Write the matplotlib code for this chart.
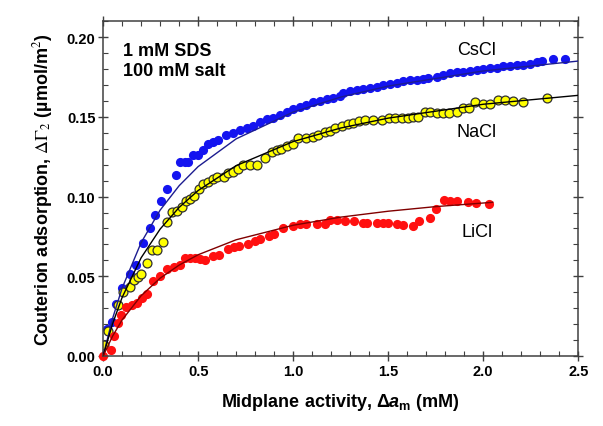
import matplotlib
matplotlib.use("Agg")
import matplotlib.pyplot as plt
from matplotlib.ticker import MultipleLocator

plt.rcParams['font.family'] = ['Liberation Sans', 'DejaVu Sans']
plt.rcParams['mathtext.fontset'] = 'custom'
plt.rcParams['mathtext.rm'] = 'Liberation Sans:bold'
plt.rcParams['mathtext.it'] = 'Liberation Sans:italic:bold'
plt.rcParams['mathtext.bf'] = 'Liberation Sans:bold'

# measured points
cs_x = [0.021, 0.046, 0.067, 0.097, 0.144, 0.172, 0.211, 0.246, 0.272, 0.307, 0.337, 0.385,
        0.404, 0.43, 0.447, 0.474, 0.5, 0.526, 0.553, 0.579, 0.605, 0.649, 0.684, 0.72, 0.755,
        0.789, 0.825, 0.86, 0.895, 0.93, 0.965, 1.0, 1.035, 1.07, 1.105, 1.14, 1.176, 1.21,
        1.246, 1.263, 1.298, 1.334, 1.368, 1.403, 1.439, 1.474, 1.509, 1.544, 1.579, 1.614,
        1.649, 1.684, 1.711, 1.755, 1.789, 1.825, 1.86, 1.895, 1.93, 1.965, 2.0, 2.035, 2.07,
        2.105, 2.14, 2.176, 2.21, 2.246, 2.281, 2.307, 2.368, 2.43]
cs_y = [0.017, 0.0216, 0.0327, 0.0426, 0.0516, 0.0572, 0.071, 0.080, 0.0887, 0.097, 0.105, 0.1134,
        0.1214, 0.1214, 0.1214, 0.126, 0.126, 0.129, 0.1327, 0.134, 0.1354, 0.1386, 0.1396, 0.1417, 0.1428,
        0.1444, 0.1465, 0.1486, 0.1495, 0.1511, 0.1528, 0.155, 0.1564, 0.1574, 0.1591, 0.160, 0.1612, 0.162,
        0.1633, 0.1648, 0.1662, 0.1669, 0.1675, 0.1679, 0.169, 0.170, 0.1704, 0.1715, 0.1725, 0.1732,
        0.1732, 0.1738, 0.1746, 0.1753, 0.1763, 0.1774, 0.178, 0.1784, 0.1788, 0.1795, 0.1801, 0.1805, 0.1805,
        0.1816, 0.1822, 0.1826, 0.1826, 0.1834, 0.1847, 0.1851, 0.1864, 0.1864]

na_x = [0.005, 0.027, 0.079, 0.105, 0.143, 0.163, 0.181, 0.198, 0.232, 0.255, 0.281, 0.313,
        0.334, 0.361, 0.391, 0.414, 0.435, 0.456, 0.478, 0.504, 0.528, 0.553, 0.579, 0.6,
        0.635, 0.658, 0.684, 0.71, 0.737, 0.772, 0.81, 0.851, 0.886, 0.913, 0.935, 0.965,
        1.0, 1.026, 1.07, 1.105, 1.132, 1.167, 1.193, 1.222, 1.255, 1.29, 1.316, 1.347,
        1.377, 1.418, 1.465, 1.505, 1.535, 1.57, 1.605, 1.632, 1.658, 1.693, 1.719, 1.755,
        1.789, 1.821, 1.86, 1.895, 1.926, 1.956, 1.997, 2.035, 2.079, 2.114, 2.155, 2.21, 2.337]
na_y = [0.007, 0.0155, 0.032, 0.040, 0.0435, 0.0474, 0.0495, 0.0516, 0.0585, 0.0662, 0.0665, 0.0715,
        0.0841, 0.0904, 0.0908, 0.0935, 0.097, 0.0987, 0.1003, 0.1048, 0.1076, 0.1092, 0.1113, 0.1124,
        0.1124, 0.1145, 0.1155, 0.1176, 0.1197, 0.1197, 0.1199, 0.1239, 0.1281, 0.1291, 0.1298, 0.1319,
        0.1327, 0.1365, 0.1369, 0.1375, 0.1386, 0.1407, 0.1414, 0.143, 0.1445, 0.1453, 0.1459, 0.1474,
        0.148, 0.148, 0.148, 0.1495, 0.1495, 0.1495, 0.1495, 0.1497, 0.1501, 0.1533, 0.1533, 0.1526,
        0.1522, 0.1522, 0.1533, 0.1558, 0.1553, 0.1591, 0.1579, 0.1579, 0.1606, 0.1606, 0.160, 0.1596, 0.1616]

li_x = [0.0, 0.04, 0.055, 0.077, 0.095, 0.12, 0.15, 0.178, 0.205, 0.232, 0.263, 0.3, 0.335,
        0.374, 0.404, 0.43, 0.456, 0.483, 0.51, 0.535, 0.576, 0.611, 0.658, 0.69, 0.716, 0.763,
        0.798, 0.825, 0.874, 0.9, 0.947, 1.0, 1.035, 1.07, 1.123, 1.167, 1.193, 1.232, 1.275,
        1.318, 1.365, 1.386, 1.442, 1.47, 1.5, 1.544, 1.579, 1.628, 1.663, 1.719, 1.751, 1.791,
        1.825, 1.86, 1.921, 1.963, 2.03]
li_y = [0.0002, 0.0035, 0.0125, 0.0205, 0.026, 0.031, 0.032, 0.0335, 0.0363, 0.039, 0.047, 0.050, 0.0547,
        0.0558, 0.0568, 0.0614, 0.0614, 0.0612, 0.0606, 0.0603, 0.0627, 0.0632, 0.067, 0.0684, 0.0692, 0.0704,
        0.0719, 0.0732, 0.0755, 0.0764, 0.080, 0.0818, 0.083, 0.0825, 0.083, 0.0825, 0.0852, 0.0851, 0.0845,
        0.0845, 0.0836, 0.0836, 0.0834, 0.0833, 0.0833, 0.0825, 0.0824, 0.0818, 0.0846, 0.0866, 0.0925, 0.0977,
        0.0974, 0.0971, 0.0967, 0.0962, 0.0956]

# fitted curves
fit_x = [0, 0.05, 0.1, 0.2, 0.3, 0.4, 0.5, 0.7, 1.0, 1.25, 1.5, 2.0, 2.5]
cs_fit = [0, 0.0236, 0.0426, 0.0711, 0.0915, 0.1068, 0.1188, 0.1362, 0.153, 0.1624, 0.1693, 0.1788, 0.185]
na_fit = [0, 0.0203, 0.0367, 0.0616, 0.0796, 0.0932, 0.1038, 0.1194, 0.1345, 0.143, 0.1492, 0.1579, 0.1635]
li_fit_x = [0, 0.05, 0.1, 0.2, 0.3, 0.4, 0.5, 0.7, 1.0, 1.25, 1.5, 1.75, 2.05]
li_fit = [0, 0.0125, 0.0226, 0.0378, 0.0488, 0.057, 0.0635, 0.0729, 0.082, 0.0871, 0.0908, 0.0937, 0.0964]

fig = plt.figure(figsize=(6.03, 4.27), dpi=100)
ax = fig.add_axes([0.171, 0.164, 0.959 - 0.171, 0.948 - 0.164])

ax.plot(cs_x, cs_y, 'o', color='#1414f0', ms=6.6, mew=0, zorder=2)
ax.plot(na_x, na_y, 'o', mfc='#ffff00', mec='#303030', ms=6.4, mew=0.9, zorder=2)
ax.plot(li_x, li_y, 'o', color='#ff1010', ms=6.6, mew=0, zorder=2, clip_on=False)

ax.plot(fit_x, cs_fit, '-', color='#1c1c90', lw=1, zorder=3)
ax.plot(fit_x, na_fit, '-', color='black', lw=1, zorder=3)
ax.plot(li_fit_x, li_fit, '-', color='#800000', lw=1, zorder=3)

ax.text(1.965, 0.1925, 'CsCl', fontsize=13, ha='center', va='center')
ax.text(1.965, 0.1409, 'NaCl', fontsize=13, ha='center', va='center')
ax.text(1.965, 0.0782, 'LiCl', fontsize=13, ha='center', va='center')
ax.text(0.105, 0.1968, '1 mM SDS\n100 mM salt', fontsize=13, fontweight='bold',
        ha='left', va='top', linespacing=1.2)

ax.set_xlim(0, 2.5)
ax.set_ylim(0, 0.21)
xt = [0.0, 0.5, 1.0, 1.5, 2.0, 2.5]
yt = [0.00, 0.05, 0.10, 0.15, 0.20]
ax.set_xticks(xt)
ax.set_xticklabels(['%.1f' % v for v in xt], fontweight='bold', fontsize=10.5)
ax.set_yticks(yt)
ax.set_yticklabels(['%.2f' % v for v in yt], fontweight='bold', fontsize=10.5)
ax.xaxis.set_minor_locator(MultipleLocator(0.1))
ax.yaxis.set_minor_locator(MultipleLocator(0.01))
ax.tick_params(which='major', direction='inout', length=7, width=1, color='#404040',
               top=True, right=True, pad=2)
ax.tick_params(which='minor', direction='in', length=3.5, width=0.8, color='#404040',
               top=True, right=True)
for s in ax.spines.values():
    s.set_color('#404040')
    s.set_linewidth(1.1)

ax.set_xlabel('Midplane activity, Δ$a_{\\mathrm{m}}$ (mM)', fontsize=13,
              fontweight='bold', labelpad=10)
ax.set_ylabel(r'Couterion adsorption, $\Delta\Gamma_{2}$ (µmol/m$^{2}$)', fontsize=13,
              fontweight='bold', labelpad=8, math_fontfamily='stix')

fig.savefig('out.png', dpi=100)
